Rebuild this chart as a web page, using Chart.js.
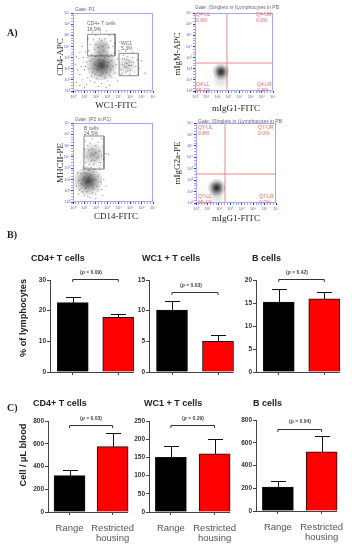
<!DOCTYPE html>
<html><head><meta charset="utf-8">
<script src="https://cdn.jsdelivr.net/npm/chart.js@4/dist/chart.umd.min.js"></script>
<style>
html,body{margin:0;padding:0;background:#fff;width:352px;height:550px;overflow:hidden}
#page{position:relative;width:352px;height:550px;filter:blur(.4px)}
canvas{position:absolute}
.t{position:absolute;white-space:nowrap;line-height:1;transform:translate(0,-50%)}
.c{transform:translate(-50%,-50%)}
.r{transform:translate(-50%,-50%) rotate(-90deg)}
.s{font-family:"Liberation Serif",serif;color:#222}
.a{font-family:"Liberation Sans",sans-serif;color:#222}
.b{font-weight:bold}
.g{font-family:"Liberation Sans",sans-serif;font-size:5px;color:#666}
.q{font-family:"Liberation Sans",sans-serif;font-size:5px;color:#e66;line-height:6px;white-space:pre}
</style></head><body><div id="page"></div>
<script>
const categories=["Range","Restricted housing"];
const cd4PctMeans=[22.6,17.8], cd4PctTops=[24.4,19.0];
const wc1PctMeans=[10.1,5.0], wc1PctTops=[11.6,6.0];
const bPctMeans=[15.2,15.9], bPctTops=[18.1,17.5];
const cd4AbsMeans=[320,575], cd4AbsTops=[370,695];
const wc1AbsMeans=[150,160], wc1AbsTops=[182,200];
const bAbsMeans=[210,520], bAbsTops=[260,655];

const dotsCD4=[[2.1,1.9],[2.6,2.2],[2.9,1.7],[2.3,2.8],[1.9,2.4],[3.1,2.6],[2.4,1.4],[2.8,3.0],[1.7,1.7],[3.3,1.9],[2.0,3.1],[2.7,3.6],[2.2,3.9],[2.9,4.2],[2.5,4.5],[1.9,3.7],[3.1,3.9],[3.4,3.3],[1.6,3.3],[2.3,4.7],[1.5,4.2],[2.8,4.7],[3.3,4.5],[3.5,4.0],[1.8,4.6],[1.4,3.6],[3.6,3.4],[3.0,3.3],[2.0,4.2],[2.6,4.0],[1.2,2.6],[1.0,1.9],[1.3,1.2],[0.9,3.0],[1.1,3.5],[0.7,2.2],[0.6,1.5],[1.5,0.9],[1.9,0.8],[2.5,0.7],[3.0,0.9],[3.4,1.2],[3.7,1.6],[3.8,2.4],[3.9,2.9],[4.0,3.6],[3.7,4.3],[3.2,5.0],[2.0,5.0],[1.3,4.7],[0.8,4.0],[0.5,2.9],[0.4,1.9],[0.8,1.0],[1.2,0.6],[2.2,0.4],[3.2,0.5],[3.9,0.9],[4.2,1.5],[0.3,0.8],[0.6,0.5],[1.7,2.9],[3.4,2.7],[1.4,2.0],[1.6,1.3],[2.1,1.1],[2.8,1.2],[3.5,2.2],[1.1,2.2],[0.9,2.6],[1.5,2.7],[1.3,3.0],[2.4,5.3],[2.9,5.4],[1.7,5.3],[3.6,5.1],[4.1,4.4],[0.6,3.5],[0.3,3.1],[4.3,2.9],[2.2,2.2],[2.7,2.7],[2.5,3.3],[3.1,3.1],[1.8,2.0],[3.0,2.2],[1.9,1.5],[2.6,1.6],[3.2,1.4],[2.3,3.4],
[4.3,2.4],[4.5,2.9],[4.7,2.1],[4.9,2.7],[5.1,2.3],[4.6,1.7],[5.0,1.9],[5.3,2.6],[4.4,3.2],[4.8,3.1],[5.2,3.0],[5.5,2.2],[4.2,1.9],[4.7,2.5],[4.5,2.2],[4.9,2.3],[5.0,1.5],[5.4,1.7],[5.6,2.8],[4.8,1.8],[4.3,1.6],[5.8,2.0],[6.0,2.7],[5.2,3.5],[4.6,3.6],[4.7,2.8],[5.1,2.6],[0.2,2.4],[1.0,0.3],[2.9,0.3],[6.3,1.6]];
const dotsMHC=[[1.3,1.8],[1.0,2.2],[1.7,1.5],[1.5,2.4],[0.8,1.6],[1.1,1.2],[1.9,2.0],[1.4,2.8],[0.7,2.5],[2.1,1.4],[1.8,2.7],[0.9,2.9],[0.5,1.9],[1.2,0.9],[1.7,0.8],[2.2,2.3],[2.4,1.8],[0.6,1.1],[1.0,0.6],[1.5,0.4],[2.0,0.7],[2.5,1.1],[2.7,2.0],[2.3,2.9],[1.6,3.1],[0.9,3.1],[0.4,2.6],[0.3,1.4],[1.3,1.4],[1.6,2.0],[1.1,1.7],[0.9,2.0],[1.4,2.2],[1.8,1.2],[0.8,0.9],[1.3,0.5],[2.0,0.3],[2.6,0.6],[1.0,2.6],[1.9,2.9],[2.9,1.4],[0.5,0.7],[2.2,1.0],[1.7,1.8],[1.2,2.5],
[1.8,4.2],[1.4,4.6],[2.1,3.9],[1.6,3.7],[2.3,4.5],[1.2,4.0],[2.0,5.0],[1.5,5.2],[2.5,4.1],[1.1,3.5],[1.8,3.3],[2.4,3.5],[1.3,5.0],[2.2,5.3],[2.6,4.9],[1.0,4.7],[1.7,4.7],[2.0,4.4],[1.5,4.1],[1.9,3.7],[2.7,3.8],[1.2,3.1],[2.3,3.1],[2.9,4.3],[3.1,4.2],[1.7,5.6],[1.1,5.4],[2.5,5.6],[1.6,4.3],[2.2,4.0],[1.4,3.3]];
const dotsIgM=[[2.3,1.7],[2.1,1.3],[2.6,1.5],[1.9,1.9],[2.5,2.1],[1.6,1.7],[2.2,1.0],[2.7,1.1],[1.4,1.3],[1.2,1.8],[2.0,0.7],[2.5,0.6],[2.9,1.6],[1.0,1.5],[0.8,1.9],[1.7,1.1],[1.5,2.1],[2.3,0.4],[2.8,0.5],[1.8,0.5],[3.1,1.2],[0.9,1.2],[1.3,0.8],[2.1,2.3],[3.0,2.0]];
const dotsIgG=[[1.8,1.3],[1.5,1.6],[2.1,1.5],[1.3,1.2],[1.9,2.0],[2.3,1.0],[1.1,1.4],[0.9,1.1],[1.7,0.7],[2.2,0.5],[1.4,0.8],[0.7,1.5],[2.5,1.8],[1.6,2.3],[2.0,2.7],[1.8,3.1],[2.2,2.3],[0.6,0.9],[2.6,0.8],[1.2,2.0],[1.9,0.3],[1.1,0.6],[2.4,2.4],[1.5,2.6],[0.5,1.3]];

const coreCD4=[[2.5,2.3]], lobeCD4=[[2.5,3.9]], lobeWC1=[[4.7,2.3]];
const coreMHC=[[1.34,1.86]], lobeMHC=[[1.8,4.2]];
const coreIgM=[[2.33,1.73]], tailIgM=[[2.33,1.0]];
const coreIgG=[[1.81,1.34]], tailIgG=[[1.81,0.7]];

const gateCD4T=[[1.28,5.09],[3.68,5.09],[3.68,3.15],[1.28,3.15],[1.28,5.09]];
const gateWC1=[[4.03,3.38],[5.72,3.38],[5.72,1.37],[4.03,1.37],[4.03,3.38]];
const gateB=[[0.96,5.85],[2.71,5.85],[2.71,2.92],[0.96,2.92],[0.96,5.85]];
const quadIgMX=[[2.87,0],[2.87,7]], quadIgMY=[[0,2.51],[7,2.51]];
const quadIgGX=[[2.54,0],[2.54,7]], quadIgGY=[[0,2.54],[7,2.54]];

const page=document.getElementById('page');
function txt(cls,x,y,html,size,extra){
  const d=document.createElement('div');d.className='t '+cls;d.style.left=x+'px';d.style.top=y+'px';
  if(size)d.style.fontSize=size+'px';d.innerHTML=html;if(extra)d.style.cssText+=extra;page.appendChild(d);
}
function mk(x,y,w,h){const c=document.createElement('canvas');c.width=w;c.height=h;c.style.left=x+'px';c.style.top=y+'px';c.style.width=w+'px';c.style.height=h+'px';page.appendChild(c);return c;}

const barDecor={id:'barDecor',afterDatasetsDraw(ch,a,o){
  const g=ch.ctx,y=ch.scales.y,m=ch.getDatasetMeta(0).data;
  g.save();g.strokeStyle='#111';g.lineWidth=1;
  m.forEach((b,i)=>{const X=Math.round(b.x)+.5,T=Math.round(y.getPixelForValue(o.tops[i]))+.5,B=Math.round(y.getPixelForValue(o.means[i]));
    g.beginPath();g.moveTo(X,B);g.lineTo(X,T);g.moveTo(X-7.5,T);g.lineTo(X+7.5,T);g.stroke();});
  g.strokeStyle='#444';
  const bz=Math.round(y.getPixelForValue(0))+.5;
  g.beginPath();g.moveTo(ch.chartArea.left,bz);g.lineTo(m[1].x+m[1].width/2,bz);g.stroke();
  const P=Math.round(y.getPixelForValue(o.bracket))+.5;
  g.strokeStyle='#333';g.beginPath();g.moveTo(m[0].x,P+2.5);g.lineTo(m[0].x,P);g.lineTo(m[1].x,P);g.lineTo(m[1].x,P+2.5);g.stroke();
  g.restore();
}};
function bar(ax,top,W,H,maxV,step,means,tops,bracket,showLabels){
  const bottom=showLabels?550-(top+H):8;
  const c=mk(ax-32,top-8,32+W+4,8+H+bottom);
  new Chart(c,{type:'bar',plugins:[barDecor],data:{labels:showLabels?[["Range"],["Restricted","housing"]]:categories,
    datasets:[{data:means,backgroundColor:['#000','#f00'],borderColor:'#111',borderWidth:1,barThickness:31}]},
   options:{responsive:false,animation:false,devicePixelRatio:1,layout:{padding:{top:8,right:4,left:0,bottom:0}},
    plugins:{legend:{display:false},tooltip:{enabled:false},barDecor:{means,tops,bracket}},
    scales:{
     x:{grid:{drawOnChartArea:false,offset:false,tickLength:3,color:'#444'},border:{display:false},
        ticks:{display:showLabels,padding:8,maxRotation:0,minRotation:0,autoSkip:false,color:'#555',font:{family:'Liberation Sans',size:9.5,lineHeight:1.1}},
        afterFit(s){s.height=bottom;}},
     y:{min:0,max:maxV,grid:{drawOnChartArea:false,tickLength:3,color:'#444'},border:{color:'#444',width:1},
        ticks:{stepSize:step,padding:1,color:'#333',font:{family:'Liberation Sans',size:6.5,weight:'bold'}},
        afterFit(s){s.width=32;}}
    }}});
}
bar(50,280,91,92,30,10,cd4PctMeans,cd4PctTops,30.3,false);
bar(149,280,92,92,15,5,wc1PctMeans,wc1PctTops,13,false);
bar(256,280,91,92,20,5,bPctMeans,bPctTops,20.2,false);
bar(48,421,91,91,800,200,cd4AbsMeans,cd4AbsTops,765,true);
bar(149,421,92,91,250,50,wc1AbsMeans,wc1AbsTops,238,true);
bar(256,420,92,91,800,200,bAbsMeans,bAbsTops,720,true);

const frame={id:'frame',afterDraw(ch){const g=ch.ctx,a=ch.chartArea;g.save();g.strokeStyle='#a4a6f8';g.lineWidth=1;
  g.strokeRect(a.left+.5,a.top+.5,a.right-a.left-1,a.bottom-a.top-1);g.restore();}};
function flow(px,py,W,H,dots,dotA,blobs,lines,lineColor){
  const c=mk(px-12,py-4,12+W+5,4+H+10);
  const pt=(r,a)=>({pointRadius:r,pointBackgroundColor:'rgba(0,0,0,'+a+')',pointBorderWidth:0,borderWidth:0,showLine:false,clip:0});
  const ds=[];
  blobs.forEach(b=>b.radii.forEach(r=>ds.push(Object.assign({data:b.data},pt(r,b.alpha)))));
  ds.push(Object.assign({data:dots},pt(.55,dotA)));
  lines.forEach(l=>ds.push({data:l,showLine:true,pointRadius:0,pointBorderWidth:0,borderColor:lineColor,borderWidth:1,fill:false}));
  const tickCol=t=>Number.isInteger(t.tick.value)?'#2a2ae0':'#a4a6f8';
  const lab=v=>Number.isInteger(v)?'10'+'⁰¹²³⁴⁵⁶⁷'[v]:'';
  const tk={stepSize:.25,autoSkip:false,maxRotation:0,padding:1,color:'#5a5ae0',font:{family:'Liberation Sans',size:4},callback:lab};
  new Chart(c,{type:'scatter',plugins:[frame],data:{datasets:ds},
   options:{responsive:false,animation:false,devicePixelRatio:1,layout:{autoPadding:false,padding:{top:4,right:5,left:0,bottom:0}},
    plugins:{legend:{display:false},tooltip:{enabled:false}},
    scales:{
     x:{min:0,max:7,grid:{drawOnChartArea:false,tickLength:2,color:tickCol},border:{display:false},ticks:tk,afterFit(s){s.height=10;}},
     y:{min:0,max:7,grid:{drawOnChartArea:false,tickLength:2,color:tickCol},border:{display:false},ticks:tk,afterFit(s){s.width=12;}}
    }}});
}
flow(73,13,80,78,dotsCD4,.6,[
 {data:coreCD4,radii:[15,12,10,8,6.5,5,4,3,2],alpha:.12},
 {data:lobeCD4,radii:[9,7,5,3],alpha:.09},
 {data:lobeWC1,radii:[9,7,5,3],alpha:.05}],[gateCD4T,gateWC1],'#888');
flow(195,13,78,78,dotsIgM,.12,[
 {data:coreIgM,radii:[8,6,5,4.2,3.6,3,2.5,2,1.5],alpha:.16},
 {data:tailIgM,radii:[8,6,4],alpha:.04}],[quadIgMX,quadIgMY],'#e88');
flow(73,123,80,79,dotsMHC,.6,[
 {data:coreMHC,radii:[14,11,9,7.5,6,4.5,3.5,2.5,1.5],alpha:.12},
 {data:lobeMHC,radii:[11,9,7,5,3],alpha:.07}],[gateB],'#888');
flow(196,123,80,80,dotsIgG,.12,[
 {data:coreIgG,radii:[8.5,6.5,5.5,4.5,3.8,3,2.5,2,1.5],alpha:.16},
 {data:tailIgG,radii:[8,6,4],alpha:.04}],[quadIgGX,quadIgGY],'#e88');

txt('s b',7,33,'A)',10);txt('s b',7,235,'B)',10);txt('s b',7,408,'C)',10);
txt('g',75,9,'Gate: P1');txt('g',75,119,'Gate: (P2 in P1)');
txt('g',195,7,'Gate: (Singlets in (Lymphocytes in PB');txt('g',198,121,'Gate: (Singlets in (Lymphocytes in PB');
txt('g',87,23,'CD4+ T cells');txt('g',87,29,'16.9%');txt('g',121,43,'WC1');txt('g',121,48,'5.3%');
txt('g',84,128,'B cells');txt('g',84,133,'24.5%');
[[196,17,'Q4-UL\n0.0%'],[256,17,'Q4-UR\n0.0%'],[196,86.5,'Q4-LL\n99.1%'],[257,86.5,'Q4-LR\n0.8%'],
 [198,129.5,'Q7-UL\n0.8%'],[258,129.5,'Q7-UR\n0.0%'],[198,198.5,'Q7-LL\n99.1%'],[259,198.5,'Q7-LR\n0.0%']].forEach(q=>txt('q',q[0],q[1],q[2]));
txt('s c',116,105,'WC1-FITC',9);txt('s c',116,216,'CD14-FITC',9);txt('s c',236,108,'mIgG1-FITC',9);txt('s c',236,218,'mIgG1-FITC',9);
txt('s r',60,57,'CD4-APC',9);txt('s r',60,163,'MHCII-PE',9);txt('s r',177,54,'mIgM-APC',9);txt('s r',177,163,'mIgG2a-PE',9);
[[31,258,'CD4+ T cells'],[142,258,'WC1 + T cells'],[252,258,'B cells'],[33,403,'CD4+ T cells'],[144,403,'WC1 + T cells'],[253,403,'B cells']].forEach(t=>txt('a b',t[0],t[1],t[2],9));
txt('a b r',24,318,'% of lymphocytes',9.2);txt('a b r',24,455,'Cell / µL blood',9.2);
const p=v=>'(<i>p</i> = '+v+')';
[[91,272,'0.09'],[191,285,'0.03'],[297,272,'0.42'],[91,418,'0.03'],[193,418,'0.29'],[300,421,'0.04']].forEach(t=>txt('a b c',t[0],t[1],p(t[2]),5,'color:#444'));
</script></body></html>
